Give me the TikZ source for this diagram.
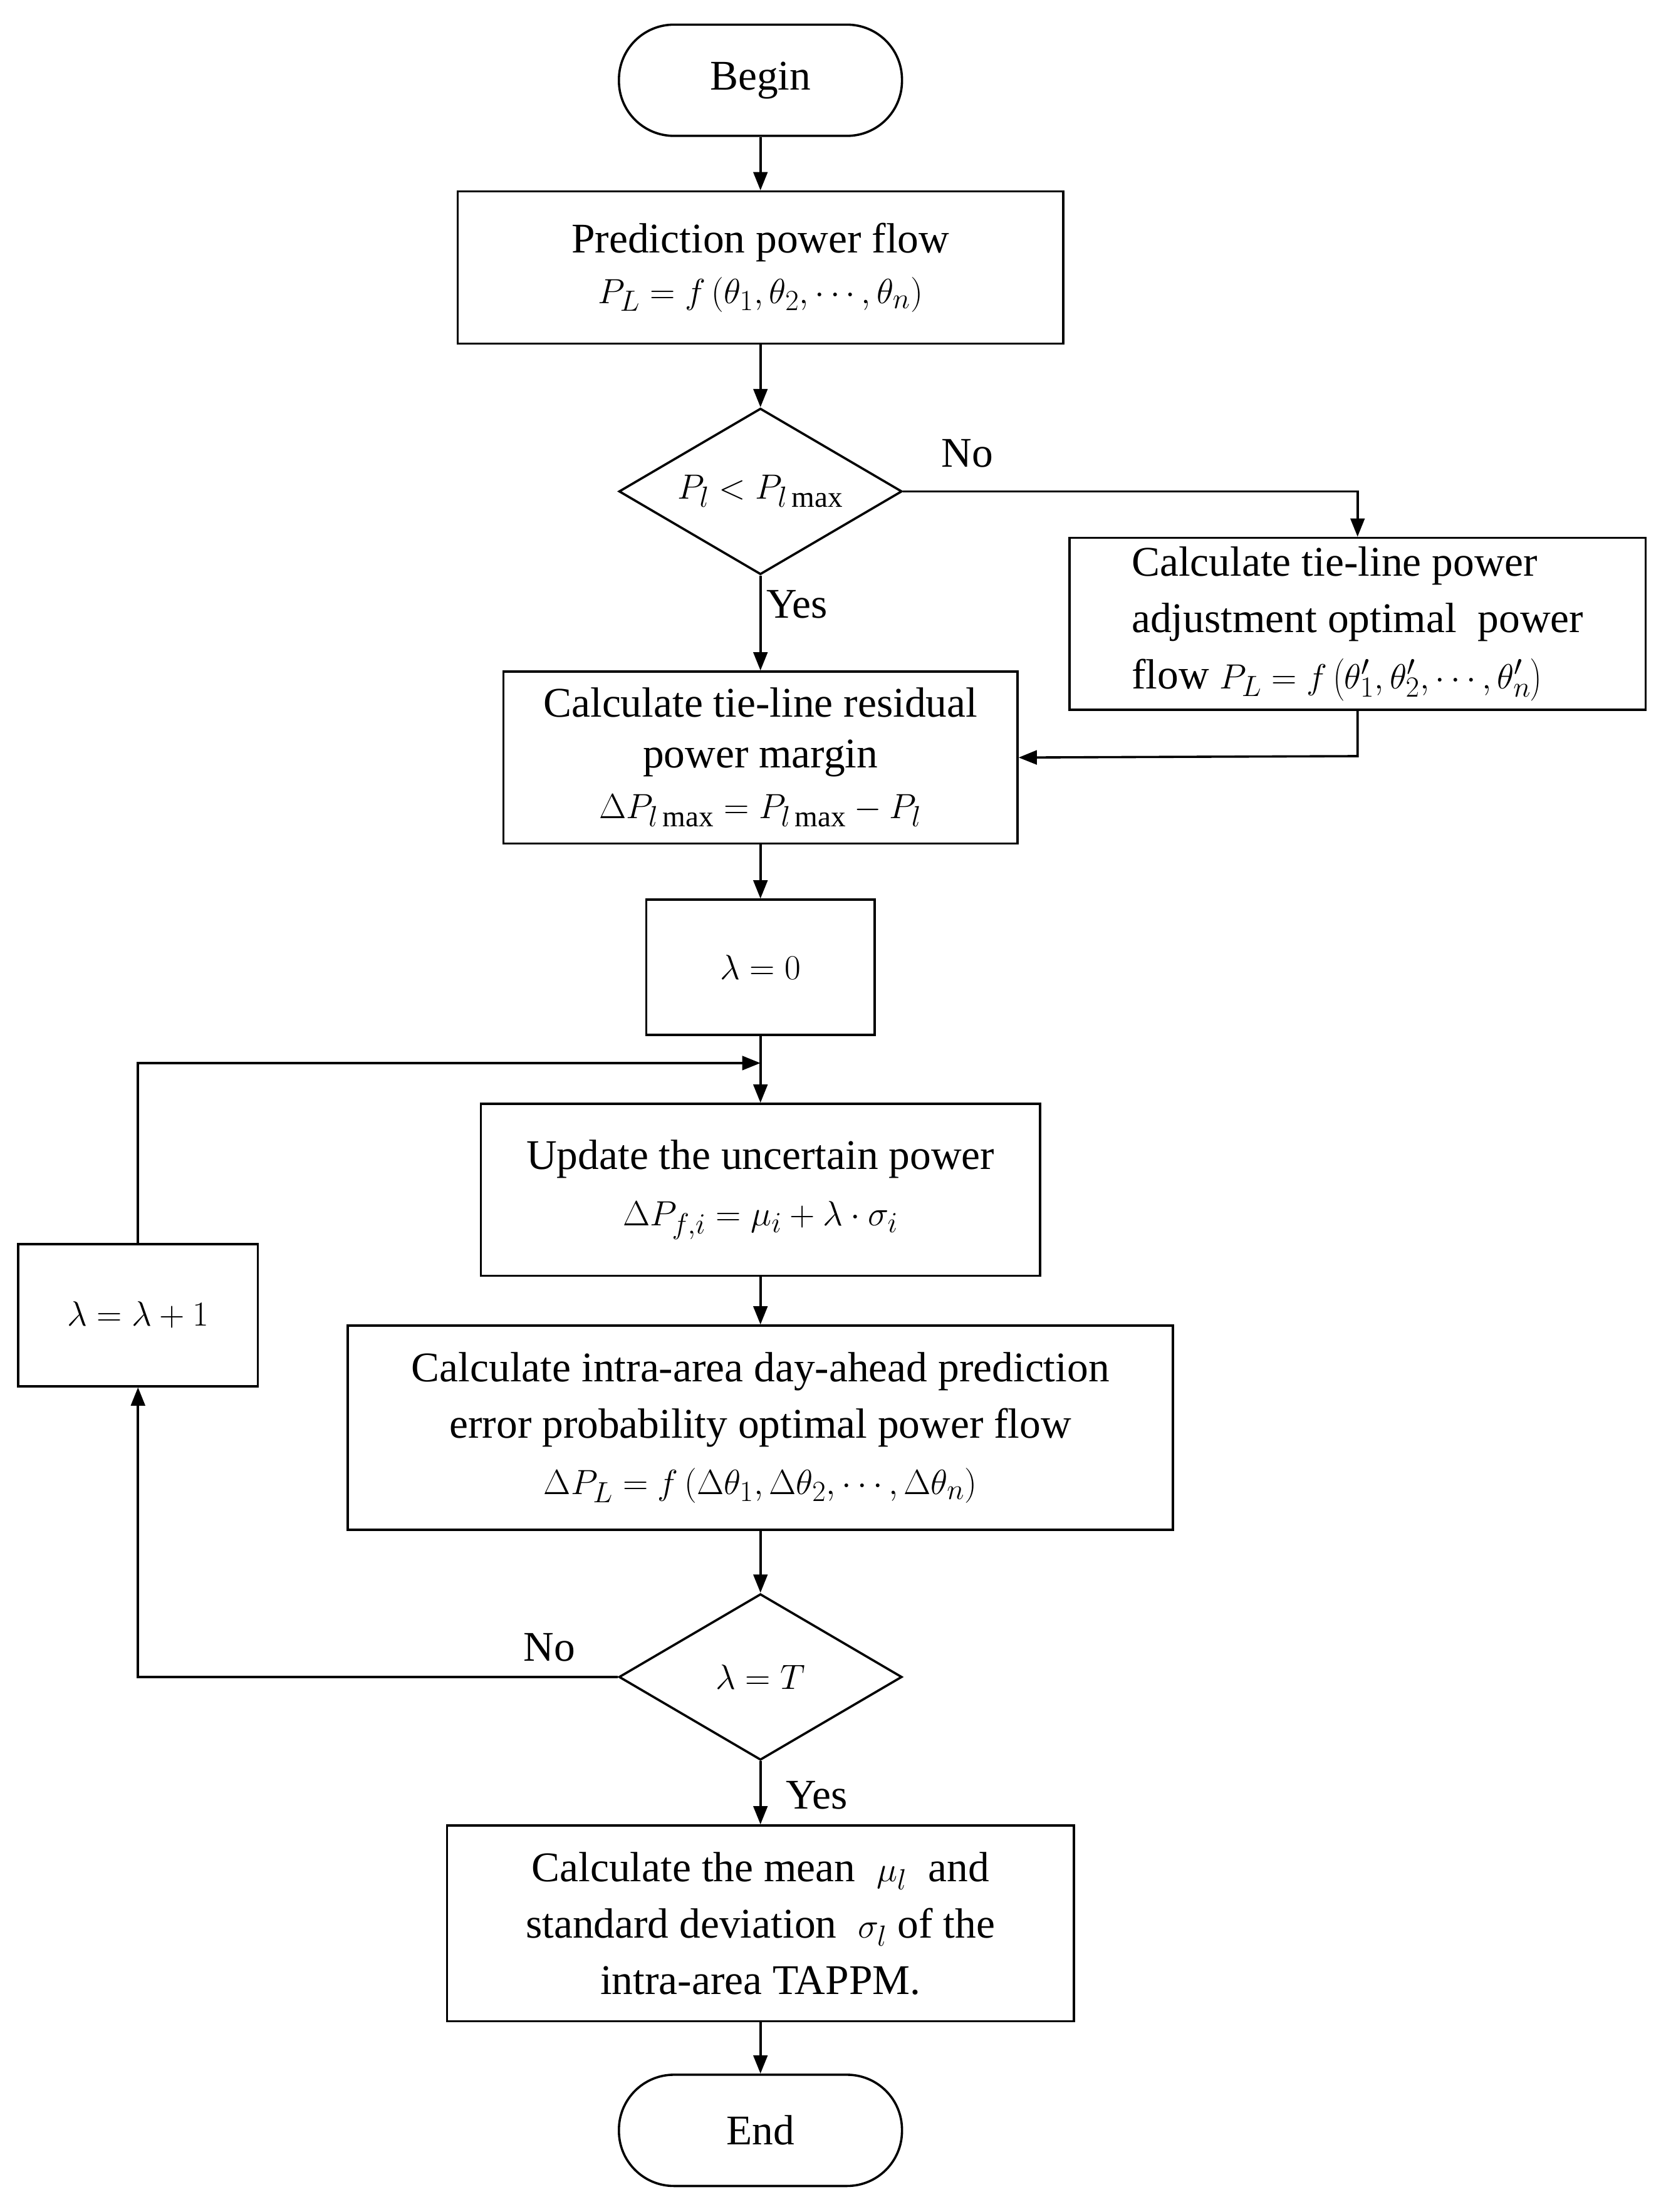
\documentclass[tikz,border=0pt]{standalone}
\usepackage{fontspec}
\setmainfont{Liberation Serif}
\usetikzlibrary{shapes.geometric,arrows.meta}
\begin{document}
\begin{tikzpicture}[x=1pt,y=-1pt,
  every node/.style={font=\fontsize{30}{40}\selectfont},
  box/.style={draw,line width=1.6pt,inner sep=2pt,align=center},
  term/.style={draw,line width=1.6pt,rounded corners=39pt,minimum width=201pt,minimum height=79pt},
  dia/.style={draw,line width=1.6pt,diamond,aspect=1.7,minimum width=201pt,minimum height=118pt,inner sep=0pt},
  arr/.style={line width=1.6pt,-{Triangle[length=13pt,width=10pt]}},
  ln/.style={line width=1.6pt},
  lab/.style={font=\fontsize{30}{36}\selectfont}]
\useasboundingbox (0,0) rectangle (1183,1571);
\node[term] (begin) at (540,57) {Begin};
\node[box,minimum width=430pt,minimum height=108pt] (pf) at (540,190) {Prediction power flow\\[-4pt]$P_L=f\left(\theta_1,\theta_2,\cdots,\theta_n\right)$};
\node[dia] (d1) at (540,349) {$P_l<P_{l\max}$};
\node[box,minimum width=409pt,minimum height=122pt,align=left] (adj) at (964,443) {Calculate tie-line power\\adjustment optimal\ \ power\\flow $P_L=f\left(\theta_1',\theta_2',\cdots,\theta_n'\right)$};
\node[box,minimum width=365pt,minimum height=122pt,inner sep=0pt] (res) at (540,538) {Calculate tie-line residual\\[-4pt]power margin\\[-4pt]$\Delta P_{l\max}=P_{l\max}-P_l$};
\node[box,minimum width=162pt,minimum height=96pt] (l0) at (540,687) {$\lambda=0$};
\node[box,minimum width=397pt,minimum height=122pt] (up) at (540,845) {Update the uncertain power\\$\Delta P_{f,i}=\mu_i+\lambda\cdot\sigma_i$};
\node[box,minimum width=170pt,minimum height=101pt] (inc) at (98,934) {$\lambda=\lambda+1$};
\node[box,minimum width=586pt,minimum height=145pt] (intra) at (540,1014) {Calculate intra-area day-ahead prediction\\error probability optimal power flow\\$\Delta P_L=f\left(\Delta\theta_1,\Delta\theta_2,\cdots,\Delta\theta_n\right)$};
\node[dia] (d2) at (540,1191) {$\lambda=T$};
\node[box,minimum width=445pt,minimum height=139pt] (fin) at (540,1366) {Calculate the mean\ \ $\mu_l$\ \ and\\standard deviation\ \ $\sigma_l$ of the\\intra-area TAPPM.};
\node[term] (end) at (540,1513) {End};
\coordinate (c1) at (964,349);
\coordinate (c2) at (964,537);
\coordinate (c3) at (98,755);
\coordinate (c4) at (540,755);
\coordinate (c5) at (98,1191);
\draw[arr] (begin) -- (pf);
\draw[arr] (pf) -- (d1);
\draw[arr] (d1) -- node[lab,right,pos=0.3]{Yes} (res);
\draw[arr] (d1.east) -- (c1) -- (adj.north);
\node[lab] at (687,322) {No};
\draw[arr] (adj.south) -- (c2) -- (res.east);
\draw[arr] (res) -- (l0);
\draw[arr] (l0) -- (up);
\draw[arr] (inc.north) -- (c3) -- (c4);
\draw[arr] (up) -- (intra);
\draw[arr] (intra) -- (d2);
\draw[arr] (d2.west) -- (c5) -- (inc.south);
\node[lab] at (390,1170) {No};
\draw[arr] (d2) -- (fin);
\node[lab] at (580,1275) {Yes};
\draw[arr] (fin) -- (end);
\end{tikzpicture}
\end{document}
